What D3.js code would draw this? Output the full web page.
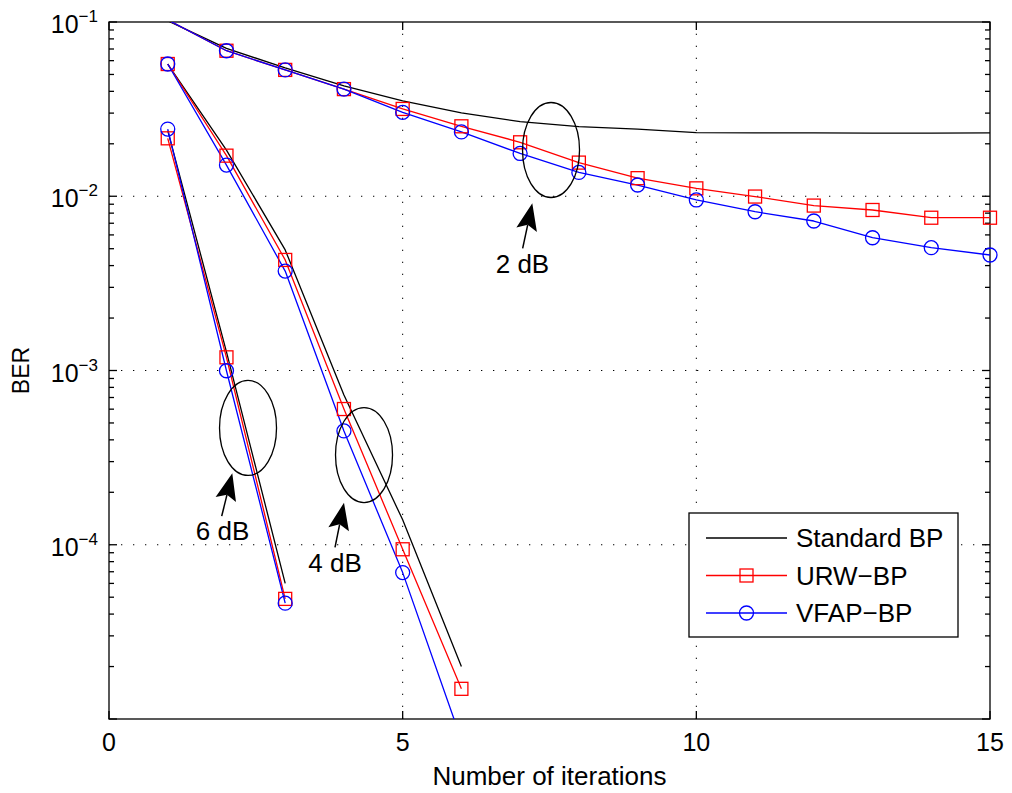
<!DOCTYPE html>
<html>
<head>
<meta charset="utf-8">
<script src="https://cdn.jsdelivr.net/npm/d3@7/dist/d3.min.js"></script>
<style>
  html, body { margin: 0; padding: 0; background: #fff; }
  svg { display: block; }
  text { font-family: "Liberation Sans", Arial, Helvetica, sans-serif; fill: #000; }
</style>
</head>
<body>
<svg id="chart" width="1012" height="793"></svg>
<script>
// ---- data: BER versus number of BP iterations at three SNR values ----
const iter2 = [1, 2, 3, 4, 5, 6, 7, 8, 9, 10, 11, 12, 13, 14, 15];
const std2  = [0.1016, 0.0706, 0.0545, 0.0430, 0.0353, 0.0301, 0.0268, 0.0251, 0.0243, 0.0232, 0.0231, 0.0231, 0.0230, 0.0230, 0.0231];
const urw2  = [0.1029, 0.0684, 0.0531, 0.0412, 0.0317, 0.0252, 0.0204, 0.0156, 0.0127, 0.0111, 0.00996, 0.00884, 0.00834, 0.00753, 0.00753];
const vfap2 = [0.1029, 0.0684, 0.0531, 0.0412, 0.0303, 0.0234, 0.0176, 0.0137, 0.0116, 0.00952, 0.00815, 0.00721, 0.00578, 0.00507, 0.00460];

const iter4 = [1, 2, 3, 4, 5, 6];
const std4  = [0.0574, 0.0184, 0.00492, 7.23e-4, 1.39e-4, 2.0e-5];
const urw4  = [0.0574, 0.0171, 0.00431, 6.01e-4, 9.42e-5, 1.49e-5];
const vfap4 = [0.0574, 0.0151, 0.00372, 4.50e-4, 6.92e-5, 7.57e-6];

const iter6 = [1, 2, 3];
const std6  = [0.0238, 0.00128, 6.0e-5];
const urw6  = [0.0215, 0.00119, 4.89e-5];
const vfap6 = [0.0243, 9.97e-4, 4.62e-5];

const seriesNames = ["Standard BP", "URW\u2212BP", "VFAP\u2212BP"];
const xTicks = [0, 5, 10, 15];
const yTickExps = [-1, -2, -3, -4];

// SNR group annotations: ellipse centre, arrow tail/tip and label anchor (data units)
const snrLabels  = ["2 dB", "4 dB", "6 dB"];
const ellipseX   = [7.526, 4.342, 2.367];
const ellipseY   = [0.01842, 3.27e-4, 4.68e-4];
const arrowTailX = [7.043, 3.848, 1.919];
const arrowTailY = [0.005026, 9.66e-5, 1.46e-4];
const arrowTipX  = [7.207, 4.001, 2.099];
const arrowTipY  = [0.00911, 1.741e-4, 2.57e-4];
const labelX     = [7.04, 3.848, 1.933];
const labelY     = [0.003626, 7.0e-5, 1.064e-4];

// ---- layout ----
const svg = d3.select("#chart");
const L = 109, R = 990, T = 22, B = 719;
const x = d3.scaleLinear().domain([0, 15]).range([L, R]);
const y = d3.scaleLog().domain([1e-5, 1e-1]).range([B, T]);

const styles = [
  { color: "#000000", marker: null },
  { color: "#ff0000", marker: "square" },
  { color: "#0000ff", marker: "circle" }
];

svg.append("defs").append("clipPath").attr("id", "plotClip")
  .append("rect").attr("x", L).attr("y", T).attr("width", R - L).attr("height", B - T);

// background
svg.append("rect").attr("x", L).attr("y", T).attr("width", R - L).attr("height", B - T).attr("fill", "#fff");

// grid
const grid = svg.append("g").attr("stroke", "#000").attr("stroke-width", 1).attr("stroke-dasharray", "1.3,10.7");
xTicks.filter(t => t > 0 && t < 15).forEach(t => {
  grid.append("line").attr("x1", x(t)).attr("x2", x(t)).attr("y1", B).attr("y2", T);
});
yTickExps.filter(e => e < -1).forEach(e => {
  grid.append("line").attr("x1", L).attr("x2", R).attr("y1", y(Math.pow(10, e))).attr("y2", y(Math.pow(10, e)));
});

// axes box and ticks
const axes = svg.append("g").attr("stroke", "#000").attr("stroke-width", 1.3).attr("fill", "none");
axes.append("rect").attr("x", L).attr("y", T).attr("width", R - L).attr("height", B - T);
xTicks.forEach(t => {
  axes.append("line").attr("x1", x(t)).attr("x2", x(t)).attr("y1", B).attr("y2", B - 8);
  axes.append("line").attr("x1", x(t)).attr("x2", x(t)).attr("y1", T).attr("y2", T + 8);
});
for (let e = -5; e < -1 + 1e-9; e++) {
  for (let m = 1; m <= 9; m++) {
    const v = m * Math.pow(10, e);
    if (v < 1e-5 - 1e-12 || v > 1e-1 + 1e-12) continue;
    const len = m === 1 ? 8 : 5;
    axes.append("line").attr("x1", L).attr("x2", L + len).attr("y1", y(v)).attr("y2", y(v));
    axes.append("line").attr("x1", R).attr("x2", R - len).attr("y1", y(v)).attr("y2", y(v));
  }
}

// curves: lines are clipped to the axes, markers are drawn for in-range points
const plot = svg.append("g").attr("clip-path", "url(#plotClip)");
const marks = svg.append("g");
const lineGen = d3.line().x(d => x(d[0])).y(d => y(d[1]));
function drawMarker(g, kind, cx, cy, color) {
  if (kind === "square") {
    g.append("rect").attr("x", cx - 6.5).attr("y", cy - 6.5).attr("width", 13).attr("height", 13)
      .attr("fill", "none").attr("stroke", color).attr("stroke-width", 1.3);
  } else if (kind === "circle") {
    g.append("circle").attr("cx", cx).attr("cy", cy).attr("r", 7)
      .attr("fill", "none").attr("stroke", color).attr("stroke-width", 1.3);
  }
}
const groups = [
  [iter2, [std2, urw2, vfap2]],
  [iter4, [std4, urw4, vfap4]],
  [iter6, [std6, urw6, vfap6]]
];
groups.forEach(([its, sets]) => {
  sets.forEach((vals, si) => {
    const pts = its.map((it, i) => [it, vals[i]]);
    plot.append("path").attr("d", lineGen(pts)).attr("fill", "none")
      .attr("stroke", styles[si].color).attr("stroke-width", 1.3).attr("stroke-linejoin", "round");
    if (styles[si].marker) {
      pts.forEach(p => {
        if (p[1] <= 1e-1 && p[1] >= 1e-5) drawMarker(marks, styles[si].marker, x(p[0]), y(p[1]), styles[si].color);
      });
    }
  });
});

// annotations
const ann = svg.append("g");
snrLabels.forEach((lab, i) => {
  ann.append("ellipse").attr("cx", x(ellipseX[i])).attr("cy", y(ellipseY[i]))
    .attr("rx", 28.5).attr("ry", 47.5).attr("fill", "none").attr("stroke", "#000").attr("stroke-width", 1.3);
  const tx = x(arrowTailX[i]), ty = y(arrowTailY[i]);
  const px = x(arrowTipX[i]), py = y(arrowTipY[i]);
  const dx = px - tx, dy = py - ty, len = Math.hypot(dx, dy);
  const ux = dx / len, uy = dy / len, nx = -uy, ny = ux;
  const headLen = 27, halfW = 10.5, notch = 22;
  ann.append("line").attr("x1", tx).attr("y1", ty)
    .attr("x2", px - ux * notch).attr("y2", py - uy * notch)
    .attr("stroke", "#000").attr("stroke-width", 1.5);
  const head = [
    [px, py],
    [px - ux * headLen + nx * halfW, py - uy * headLen + ny * halfW],
    [px - ux * notch, py - uy * notch],
    [px - ux * headLen - nx * halfW, py - uy * headLen - ny * halfW]
  ];
  ann.append("path").attr("d", "M" + head.map(p => p.join(",")).join("L") + "Z").attr("fill", "#000");
  ann.append("text").attr("x", x(labelX[i])).attr("y", y(labelY[i]))
    .attr("text-anchor", "middle").attr("font-size", 26).text(lab);
});

// tick labels
svg.append("g").selectAll("text").data(xTicks).join("text")
  .attr("x", d => x(d)).attr("y", 751).attr("text-anchor", "middle").attr("font-size", 25)
  .text(d => d);
const yl = svg.append("g").selectAll("text").data(yTickExps).join("text")
  .attr("x", 98).attr("y", d => y(Math.pow(10, d)) + 11).attr("text-anchor", "end").attr("font-size", 25);
yl.append("tspan").text("10");
yl.append("tspan").attr("dy", -11).attr("font-size", 17).text(d => "\u2212" + (-d));

// axis titles
svg.append("text").attr("x", (L + R) / 2).attr("y", 785).attr("text-anchor", "middle")
  .attr("font-size", 26).text("Number of iterations");
svg.append("text").attr("transform", `translate(29,${(T + B) / 2}) rotate(-90)`)
  .attr("text-anchor", "middle").attr("font-size", 23).text("BER");

// legend
const lg = svg.append("g");
lg.append("rect").attr("x", 689).attr("y", 513).attr("width", 269).attr("height", 124)
  .attr("fill", "#fff").attr("stroke", "#000").attr("stroke-width", 1.3);
seriesNames.forEach((name, i) => {
  const ry = 538 + i * 37.5;
  lg.append("line").attr("x1", 706).attr("x2", 787).attr("y1", ry).attr("y2", ry)
    .attr("stroke", styles[i].color).attr("stroke-width", 1.3);
  if (styles[i].marker) drawMarker(lg, styles[i].marker, 746.5, ry, styles[i].color);
  lg.append("text").attr("x", 796).attr("y", ry + 9).attr("font-size", 26).text(name);
});
</script>
</body>
</html>
